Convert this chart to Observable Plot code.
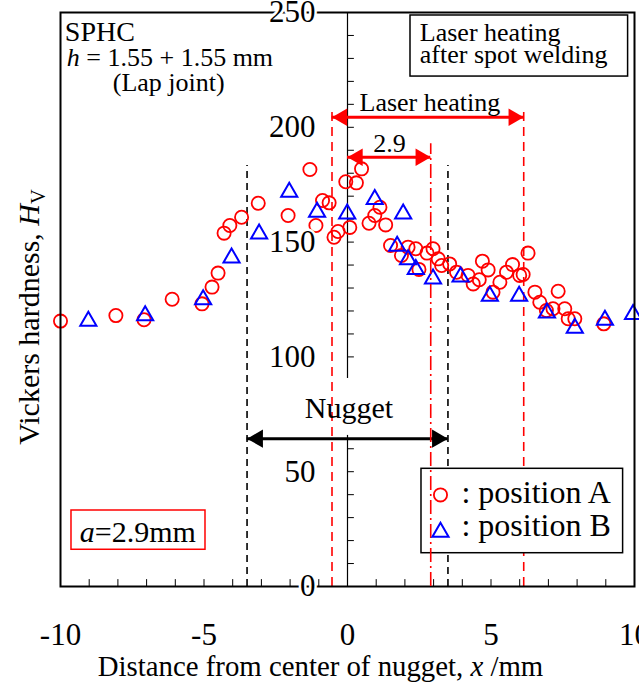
<!DOCTYPE html>
<html><head><meta charset="utf-8">
<script src="https://cdn.jsdelivr.net/npm/d3@7"></script>
<script src="https://cdn.jsdelivr.net/npm/@observablehq/plot@0.6"></script>
<style>body{margin:0;background:#fff;} svg{display:block}</style>
</head><body><div id="chart"></div>
<script>
// Position A (circles): distance x (mm), hardness Hv
const posA_x = [-10.0,-8.07,-7.09,-6.11,-5.07,-4.72,-4.51,-4.30,-4.10,-3.69,-3.11,-2.07,-1.31,-1.10,-0.87,-0.64,-0.47,-0.33,-0.06,0.08,0.31,0.49,0.75,0.95,1.13,1.33,1.50,1.88,2.11,2.38,2.49,2.77,2.98,3.16,3.28,3.56,3.80,4.20,4.38,4.59,4.70,4.90,5.07,5.31,5.54,5.75,6.00,6.12,6.29,6.53,6.70,6.93,7.16,7.34,7.57,7.69,7.92,8.93];
const posA_h = [115.6,118.0,116.2,125.1,123.1,130.4,136.5,153.9,157.2,160.8,166.9,161.6,181.6,157.2,168.1,167.1,152.1,154.6,176.3,156.4,175.8,181.9,158.2,161.6,165.2,157.5,148.5,144.2,147.8,147.1,138.1,145.2,147.1,142.7,139.8,140.5,136.9,135.5,131.8,133.6,141.7,137.9,128.2,132.5,136.9,140.2,135.5,135.9,145.2,128.2,123.8,120.2,121.0,128.6,121.0,116.6,116.6,114.4];
// Position B (triangles)
const posB_x = [-9.03,-7.05,-5.03,-4.04,-3.08,-2.03,-1.06,-0.01,0.95,1.73,1.94,2.11,2.38,2.98,3.94,4.96,5.98,6.95,7.92,8.97,9.95];
const posB_h = [115.6,118.0,125.0,143.2,153.6,171.8,163.1,162.3,168.6,148.3,162.3,142.4,138.1,134.0,134.9,126.5,126.5,119.2,112.5,116.0,118.5];

const xTickLabels = [-10, -5, 0, 5, 10];
const yTickLabels = [0, 50, 100, 150, 200, 250];
const xMinorTicks = d3.range(-9, 10, 1);
const yMinorTicks = d3.range(10, 250, 10);

const nuggetEdges = [-3.5, 3.5];
const laserEdges = [-0.54, 6.14];
const laserWidthA = 2.9;

const A = posA_x.map((x, i) => ({x, h: posA_h[i]}));
const B = posB_x.map((x, i) => ({x, h: posB_h[i]}));

const FONT = "'Liberation Serif','Times New Roman',serif";

function dblArrow(x1, x2, y, color, r) {
  const d = [{x1, x2, y}];
  return [
    Plot.ruleY(d, {y: "y", x1: "x1", x2: "x2", stroke: color, strokeWidth: 3}),
    Plot.dot(d, {x: "x1", y: "y", symbol: "triangle", rotate: -90, dx: 0.7776 * 2 * r, r, fill: color, stroke: "none"}),
    Plot.dot(d, {x: "x2", y: "y", symbol: "triangle", rotate: 90, dx: -0.7776 * 2 * r, r, fill: color, stroke: "none"})
  ];
}

const plot = Plot.plot({
  width: 639, height: 688,
  marginLeft: 60, marginRight: 5, marginTop: 12, marginBottom: 102,
  x: {domain: [-10, 10], axis: null},
  y: {domain: [0, 250], axis: null},
  style: {fontFamily: FONT, fontSize: "26px", background: "white", overflow: "visible", color: "black"},
  marks: [
    // center axis and ticks
    Plot.ruleX([0], {y1: 0, y2: 250, stroke: "black", strokeWidth: 1.2}),
    Plot.ruleY(yMinorTicks, {y: d => d, x1: 0, x2: 0.24, stroke: "black", strokeWidth: 1}),
    Plot.ruleX(xMinorTicks, {x: d => d, y1: 0, y2: 3, stroke: "black", strokeWidth: 1}),
    // white background under "Nugget"
    Plot.rect([0], {x1: -1.1, x2: 1.1, y1: 65.8, y2: 90.6, fill: "white"}),
    // guide lines
    Plot.ruleX(laserEdges, {x: d => d, y1: 0, y2: 208.6, stroke: "red", strokeWidth: 1.6, strokeDasharray: "9,6"}),
    Plot.ruleX(nuggetEdges, {x: d => d, y1: 0, y2: 183.4, stroke: "black", strokeWidth: 1.6, strokeDasharray: "7,5"}),
    // data
    Plot.dot(A, {x: "x", y: "h", symbol: "circle", r: 6.6, stroke: "#ff0000", strokeWidth: 1.8, fill: "none"}),
    Plot.dot(B, {x: "x", y: "h", symbol: "triangle", r: 6.0, stroke: "#0000ff", strokeWidth: 2, fill: "none"}),
    // arrows
    ...dblArrow(laserEdges[0], laserEdges[1], 204.4, "#ff0000", 6.5),
    ...dblArrow(0, laserWidthA, 187, "#ff0000", 6.5),
    ...dblArrow(nuggetEdges[0], nuggetEdges[1], 64.4, "black", 6.8),
    Plot.frame({stroke: "black", strokeWidth: 2}),
    // boxes
    Plot.rect([0], {x1: 2.195, x2: 9.777, y1: 222.1, y2: 248.7, fill: "white", stroke: "black", strokeWidth: 1.5}),
    Plot.rect([0], {x1: 2.578, x2: 9.603, y1: 14.5, y2: 51.26, fill: "white", stroke: "black", strokeWidth: 1.5}),
    Plot.rect([0], {x1: -9.617, x2: -4.948, y1: 16.0, y2: 33.1, fill: "white", stroke: "#ff0000", strokeWidth: 1.5}),
    // dash-dot line at a = 2.9 mm (drawn over the legend box)
    Plot.ruleX([laserWidthA], {x: d => d, y1: 0, y2: 192.8, stroke: "red", strokeWidth: 1.6, strokeDasharray: "14,4,2,4"}),
    // legend
    Plot.dot([0], {x: 3.24, y: 39.9, symbol: "circle", r: 6.6, stroke: "#ff0000", strokeWidth: 1.8, fill: "none"}),
    Plot.dot([0], {x: 3.24, y: 23.7, symbol: "triangle", r: 6.0, stroke: "#0000ff", strokeWidth: 2, fill: "none"}),
    Plot.text([": position A", ": position B"], {x: 3.97, y: [40.7, 26.6], text: d => d, textAnchor: "start", fontSize: 32, fill: "black"}),
    // tick labels
    Plot.text(yTickLabels, {x: 0, y: d => d, text: d => String(d), textAnchor: "end", dx: -32, fontSize: 31, fill: "black", stroke: "white", strokeWidth: 5}),
    Plot.text(xTickLabels, {x: d => d, y: 0, text: d => (d < 0 ? "-" + Math.abs(d) : String(d)), dy: 49, fontSize: 31, fill: "black"}),
    // axis titles
    Plot.text(["Distance from center of nugget, x /mm"], {x: -0.94, y: 0, dy: 80.7, text: d => d, fontSize: 28.8, fill: "black"}),
    Plot.text(["Vickers hardness, HV"], {x: -10, y: 117.4, dx: -31, rotate: -90, text: d => d, fontSize: 30, fill: "black"}),
    // annotations
    Plot.text(["SPHC"], {x: -9.85, y: 241.7, text: d => d, textAnchor: "start", fontSize: 28, fill: "black"}),
    Plot.text(["h = 1.55 + 1.55 mm"], {x: -9.78, y: 230.5, text: d => d, textAnchor: "start", fontSize: 26, fill: "black"}),
    Plot.text(["(Lap joint)"], {x: -8.18, y: 219.6, text: d => d, textAnchor: "start", fontSize: 26, fill: "black"}),
    Plot.text(["Laser heating", "after spot welding"], {x: 2.52, y: [241.4, 231.8], text: d => d, textAnchor: "start", fontSize: 26, fill: "black"}),
    Plot.text(["Laser heating"], {x: 2.87, y: 210.9, text: d => d, fontSize: 26, fill: "black"}),
    Plot.text(["2.9"], {x: 1.46, y: 192.8, text: d => d, fontSize: 26, fill: "black"}),
    Plot.text(["Nugget"], {x: 0.05, y: 77.4, text: d => d, fontSize: 30, fill: "black"}),
    Plot.text(["a=2.9mm"], {x: -9.33, y: 23.6, text: d => d, textAnchor: "start", fontSize: 30, fill: "black"})
  ]
});

function rich(svg, plain, segs) {
  svg.querySelectorAll("text").forEach(t => {
    if (t.textContent === plain) {
      while (t.firstChild) t.removeChild(t.firstChild);
      for (const s of segs) {
        const ts = document.createElementNS("http://www.w3.org/2000/svg", "tspan");
        ts.textContent = s.t;
        if (s.i) ts.setAttribute("font-style", "italic");
        if (s.sub) { ts.setAttribute("font-size", "0.68em"); ts.setAttribute("dy", "0.3em"); }
        t.appendChild(ts);
      }
    }
  });
}
rich(plot, "Distance from center of nugget, x /mm", [{t: "Distance from center of nugget, "}, {t: "x", i: true}, {t: " /mm"}]);
rich(plot, "Vickers hardness, HV", [{t: "Vickers hardness, "}, {t: "H", i: true}, {t: "V", sub: true}]);
rich(plot, "h = 1.55 + 1.55 mm", [{t: "h", i: true}, {t: " = 1.55 + 1.55 mm"}]);
rich(plot, "a=2.9mm", [{t: "a", i: true}, {t: "=2.9mm"}]);

document.getElementById("chart").appendChild(plot);
</script></body></html>
